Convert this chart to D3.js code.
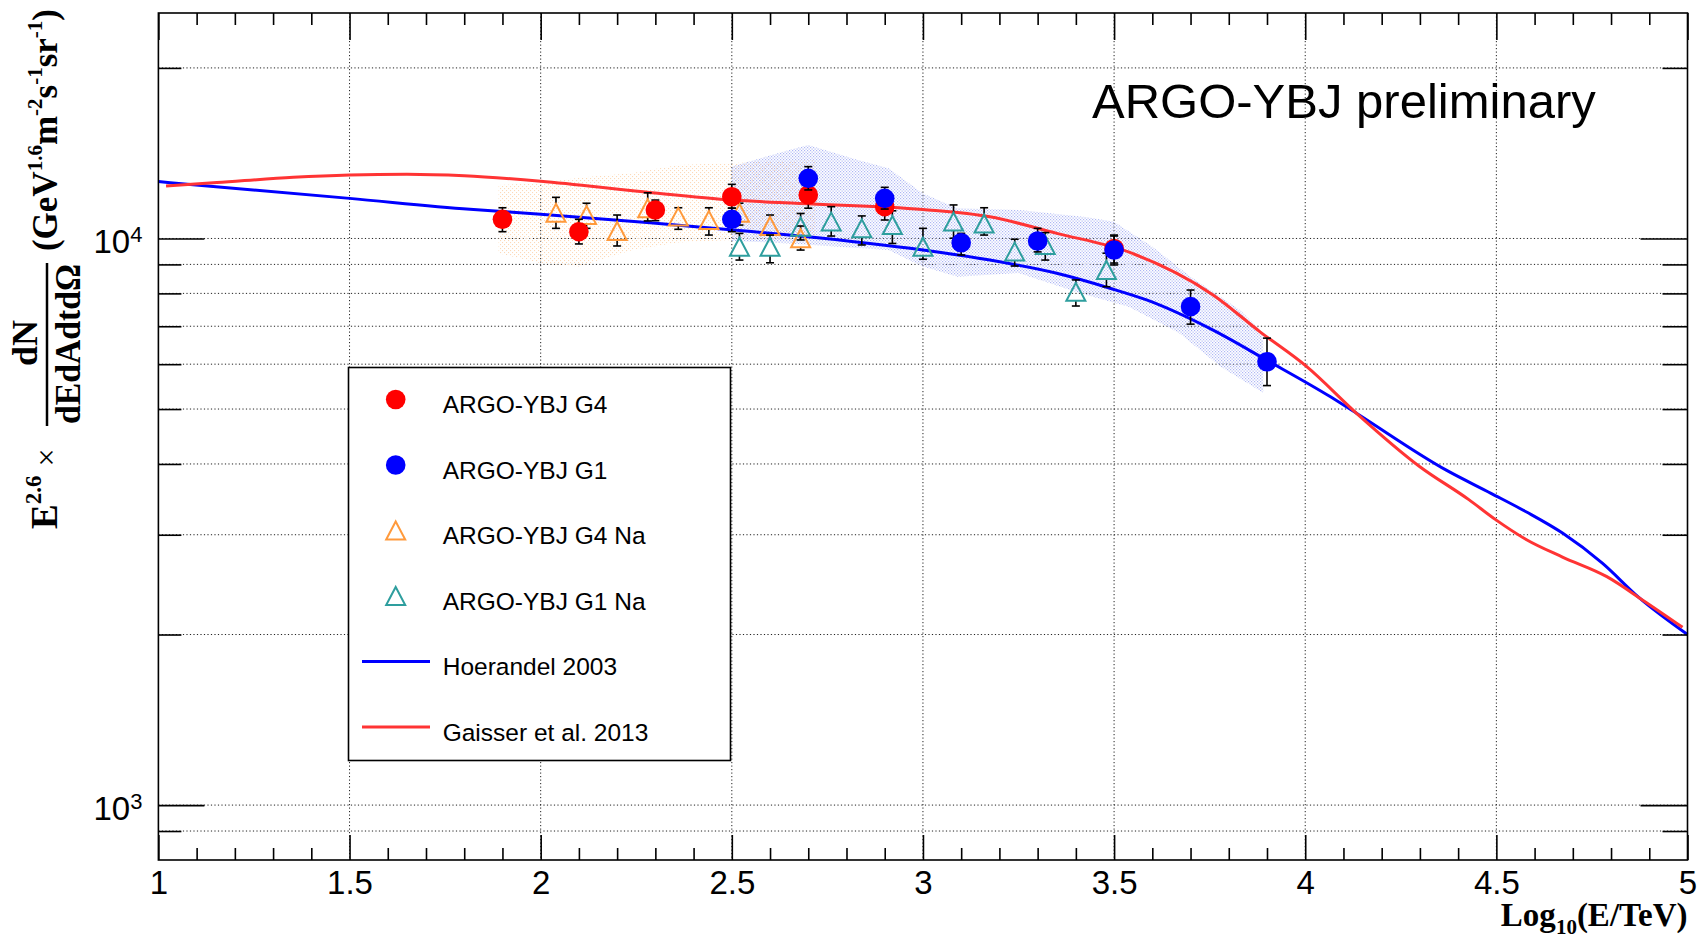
<!DOCTYPE html>
<html>
<head>
<meta charset="utf-8">
<title>ARGO-YBJ all-particle spectrum</title>
<script src="https://cdn.jsdelivr.net/npm/d3@7"></script>
<style>
  body { margin: 0; background: #fff; }
  svg { display: block; }
  .sans { font-family: "Liberation Sans", Arial, Helvetica, sans-serif; }
  .serif { font-family: "Liberation Serif", "Times New Roman", serif; font-weight: bold; }
</style>
</head>
<body>
<div id="chart"></div>
<script>
// ---- data ----
// ARGO-YBJ G4 (red dots)
var g4X  = [1.9, 2.1, 2.3, 2.5, 2.7, 2.9, 3.5];
var g4Y  = [10810, 10280, 11230, 11850, 11930, 11380, 9600];
var g4Lo = [10280, 9780, 10750, 11310, 11310, 10780, 9050];
var g4Hi = [11330, 10810, 11690, 12460, 12530, 11930, 10100];

// ARGO-YBJ G1 (blue dots)
var g1X  = [2.5, 2.7, 2.9, 3.1, 3.3, 3.5, 3.7, 3.9];
var g1Y  = [10810, 12770, 11770, 9830, 9900, 9540, 7580, 6060];
var g1Lo = [10280, 12180, 11270, 9350, 9470, 8980, 7060, 5500];
var g1Hi = [11310, 13390, 12310, 10210, 10420, 10140, 8110, 6670];

// ARGO-YBJ G4 Na (orange open triangles)
var g4naX  = [2.04, 2.12, 2.20, 2.28, 2.36, 2.44, 2.52, 2.60, 2.68];
var g4naY  = [11100, 11000, 10310, 11310, 10930, 10780, 11100, 10520, 10010];
var g4naLo = [10420, 10420, 9700, 10740, 10380, 10140, 10560, 10140, 9540];
var g4naHi = [11820, 11540, 11000, 12040, 11330, 11330, 11540, 11000, 10520];

// ARGO-YBJ G1 Na (teal open triangles)
var g1naX  = [2.52, 2.60, 2.68, 2.76, 2.84, 2.92, 3.00, 3.08, 3.16, 3.24, 3.32, 3.40, 3.48];
var g1naY  = [9670, 9670, 10490, 10710, 10420, 10560, 9670, 10710, 10630, 9480, 9740, 8050, 8800];
var g1naLo = [9160, 9060, 9940, 10100, 9740, 9800, 9190, 10010, 10140, 8940, 9160, 7600, 8220];
var g1naHi = [10210, 10140, 11070, 11380, 10960, 11190, 10420, 11460, 11330, 9970, 10240, 8450, 9420];

// systematic bands (dotted fill)
var bandG4X  = [1.89, 2.0, 2.1, 2.24, 2.36, 2.5, 2.72];
var bandG4Lo = [9420, 9040, 8920, 9540, 9840, 9940, 9940];
var bandG4Hi = [12430, 12530, 12800, 13050, 13480, 13590, 13760];

var bandG1UpX  = [2.5, 2.65, 2.70, 2.83, 2.91, 3.0, 3.09, 3.26, 3.43, 3.5, 3.6, 3.7, 3.83, 3.89];
var bandG1UpY  = [13400, 14330, 14620, 13760, 13300, 12010, 11310, 11220, 10900, 10700, 9670, 8560, 7470, 6800];
var bandG1LowX = [2.5, 2.65, 2.91, 3.0, 3.09, 3.25, 3.41, 3.54, 3.67, 3.78, 3.89];
var bandG1LowY = [9900, 9800, 9540, 8920, 8560, 8690, 8010, 7570, 6810, 5930, 5340];

// models
var hoerX = [1.0, 1.5, 1.815, 2.0, 2.286, 2.504, 2.678, 3.0, 3.175, 3.35, 3.489, 3.585, 3.759, 3.899,
             4.065, 4.135, 4.369, 4.486, 4.579, 4.673, 4.778, 4.871, 5.0];
var hoerY = [12600, 11770, 11260, 11040, 10660, 10350, 10100, 9540, 9160, 8680, 8170, 7790, 6890, 6100,
             5260, 4910, 3900, 3550, 3290, 3020, 2670, 2330, 2000];
var gaisX = [1.02, 1.153, 1.353, 1.5, 1.65, 1.8, 2.0, 2.268, 2.504, 2.678, 3.0, 3.175, 3.35, 3.541, 3.759,
             3.881, 4.004, 4.135, 4.299, 4.428, 4.498, 4.579, 4.673, 4.789, 4.883, 4.987];
var gaisY = [12380, 12550, 12820, 12940, 12980, 12900, 12620, 12090, 11690, 11530, 11250, 10920, 10210, 9450, 7950,
             6850, 5940, 4910, 3960, 3460, 3190, 2940, 2740, 2530, 2300, 2060];

var legendLabels = ["ARGO-YBJ G4", "ARGO-YBJ G1", "ARGO-YBJ G4 Na", "ARGO-YBJ G1 Na", "Hoerandel 2003", "Gaisser et al. 2013"];

// ---- drawing ----
var W = 1701, H = 941;
var RED = "#ff0000", BLUE = "#0000ff", ORANGE = "#ff9a3c", TEAL = "#2e9e9e";
var RED_LINE = "#ff3434";

var svg = d3.select("#chart").append("svg").attr("width", W).attr("height", H);
svg.append("rect").attr("width", W).attr("height", H).attr("fill", "#fff");

var x = d3.scaleLinear().domain([1, 5]).range([158.4, 1687.5]);
var y = d3.scaleLog().domain([800, 25000]).range([860, 13]);
var X0 = x.range()[0], X1 = x.range()[1], YB = y.range()[0], YT = y.range()[1];

var defs = svg.append("defs");
function dotPattern(id, color, size, dot) {
  var p = defs.append("pattern").attr("id", id)
    .attr("patternUnits", "userSpaceOnUse").attr("width", size).attr("height", size);
  p.append("rect").attr("x", 0).attr("y", 0).attr("width", dot).attr("height", dot).attr("fill", color);
  p.append("rect").attr("x", size / 2).attr("y", size / 2).attr("width", dot).attr("height", dot).attr("fill", color);
}
dotPattern("dotOrange", "#fcd9b8", 4, 1.1);
dotPattern("dotBlue", "#aeb6f4", 3, 1.2);

var yTicks = y.ticks().filter(function (v) { return v > 800 && v < 25000; });
var yMajor = yTicks.filter(function (v) { return Math.abs(Math.log10(v) - Math.round(Math.log10(v))) < 1e-9; });
var yMinor = yTicks.filter(function (v) { return yMajor.indexOf(v) < 0; });
var xMajor = x.ticks(8);
var xMinor = x.ticks(40).filter(function (v) { return Math.abs(v * 2 - Math.round(v * 2)) > 1e-6; });

// grid
var grid = svg.append("g").attr("stroke", "#222").attr("stroke-width", 1).attr("stroke-dasharray", "1.2,2.3");
grid.selectAll(".gx").data(xMajor.slice(1, -1)).enter().append("line")
  .attr("x1", function (d) { return x(d); }).attr("x2", function (d) { return x(d); })
  .attr("y1", YT).attr("y2", YB);
grid.selectAll(".gy").data(yTicks).enter().append("line")
  .attr("x1", X0).attr("x2", X1)
  .attr("y1", function (d) { return y(d); }).attr("y2", function (d) { return y(d); });

// bands
function bandPath(ux, uy, lx, ly) {
  var pts = ux.map(function (v, i) { return [x(v), y(uy[i])]; });
  for (var i = lx.length - 1; i >= 0; i--) pts.push([x(lx[i]), y(ly[i])]);
  return "M" + pts.map(function (p) { return p.join(","); }).join("L") + "Z";
}
svg.append("path").attr("d", bandPath(bandG4X, bandG4Hi, bandG4X, bandG4Lo)).attr("fill", "url(#dotOrange)");
svg.append("path").attr("d", bandPath(bandG1UpX, bandG1UpY, bandG1LowX, bandG1LowY)).attr("fill", "url(#dotBlue)");

// model curves
var line = d3.line().x(function (d) { return x(d[0]); }).y(function (d) { return y(d[1]); }).curve(d3.curveMonotoneX);
svg.append("path").datum(hoerX.map(function (v, i) { return [v, hoerY[i]]; }))
  .attr("d", line).attr("fill", "none").attr("stroke", BLUE).attr("stroke-width", 3);
svg.append("path").datum(gaisX.map(function (v, i) { return [v, gaisY[i]]; }))
  .attr("d", line).attr("fill", "none").attr("stroke", RED_LINE).attr("stroke-width", 3);

// data points
var R = 9.8, T = 9;
function errBars(g, xs, lo, hi, gapTop, gapBot, ys) {
  xs.forEach(function (v, i) {
    var cx = x(v), ct = y(hi[i]), cb = y(lo[i]), cy = y(ys[i]);
    if (ct < cy - gapTop) g.append("line").attr("x1", cx).attr("x2", cx).attr("y1", ct).attr("y2", cy - gapTop);
    if (cb > cy + gapBot) g.append("line").attr("x1", cx).attr("x2", cx).attr("y1", cy + gapBot).attr("y2", cb);
    g.append("line").attr("x1", cx - 4).attr("x2", cx + 4).attr("y1", ct).attr("y2", ct);
    g.append("line").attr("x1", cx - 4).attr("x2", cx + 4).attr("y1", cb).attr("y2", cb);
  });
}
function triPath(cx, cy) {
  return "M" + cx + "," + (cy - T) + "L" + (cx + 9.5) + "," + (cy + T) + "L" + (cx - 9.5) + "," + (cy + T) + "Z";
}
function circles(xs, ys, lo, hi, color) {
  var g = svg.append("g");
  var e = g.append("g").attr("stroke", "#000").attr("stroke-width", 1.6);
  errBars(e, xs, lo, hi, 0, 0, ys);
  g.selectAll("circle").data(xs).enter().append("circle")
    .attr("cx", function (d) { return x(d); })
    .attr("cy", function (d, i) { return y(ys[i]); })
    .attr("r", R).attr("fill", color);
}
function triangles(xs, ys, lo, hi, color) {
  var g = svg.append("g");
  var e = g.append("g").attr("stroke", "#000").attr("stroke-width", 1.6);
  errBars(e, xs, lo, hi, T, T, ys);
  g.selectAll("path").data(xs).enter().append("path")
    .attr("d", function (d, i) { return triPath(x(d), y(ys[i])); })
    .attr("fill", "none").attr("stroke", color).attr("stroke-width", 2);
}
triangles(g4naX, g4naY, g4naLo, g4naHi, ORANGE);
triangles(g1naX, g1naY, g1naLo, g1naHi, TEAL);
circles(g4X, g4Y, g4Lo, g4Hi, RED);
circles(g1X, g1Y, g1Lo, g1Hi, BLUE);

// axes (ticks pointing inwards)
function styleAxis(g) {
  g.select(".domain").remove();
  g.selectAll(".tick line").attr("stroke", "#000").attr("stroke-width", 1.6);
}
svg.append("g").attr("transform", "translate(0," + YB + ")")
  .call(d3.axisBottom(x).tickValues(xMajor).tickSize(-25).tickSizeOuter(0).tickPadding(11).tickFormat(d3.format("")))
  .call(styleAxis)
  .selectAll("text").attr("class", "sans").attr("font-size", 33).attr("fill", "#000");
svg.append("g").attr("transform", "translate(0," + YB + ")")
  .call(d3.axisBottom(x).tickValues(xMinor).tickSize(-12).tickSizeOuter(0).tickFormat(""))
  .call(styleAxis);
svg.append("g").attr("transform", "translate(0," + YT + ")")
  .call(d3.axisTop(x).tickValues(xMajor).tickSize(-27).tickSizeOuter(0).tickFormat(""))
  .call(styleAxis);
svg.append("g").attr("transform", "translate(0," + YT + ")")
  .call(d3.axisTop(x).tickValues(xMinor).tickSize(-12).tickSizeOuter(0).tickFormat(""))
  .call(styleAxis);
svg.append("g").attr("transform", "translate(" + X0 + ",0)")
  .call(d3.axisLeft(y).tickValues(yMajor).tickSize(-46).tickSizeOuter(0).tickFormat(""))
  .call(styleAxis);
svg.append("g").attr("transform", "translate(" + X0 + ",0)")
  .call(d3.axisLeft(y).tickValues(yMinor).tickSize(-23).tickSizeOuter(0).tickFormat(""))
  .call(styleAxis);
svg.append("g").attr("transform", "translate(" + X1 + ",0)")
  .call(d3.axisRight(y).tickValues(yMajor).tickSize(-47).tickSizeOuter(0).tickFormat(""))
  .call(styleAxis);
svg.append("g").attr("transform", "translate(" + X1 + ",0)")
  .call(d3.axisRight(y).tickValues(yMinor).tickSize(-25).tickSizeOuter(0).tickFormat(""))
  .call(styleAxis);

svg.append("rect").attr("x", X0).attr("y", YT).attr("width", X1 - X0).attr("height", YB - YT)
  .attr("fill", "none").attr("stroke", "#000").attr("stroke-width", 1.6);

// 10^n labels
yMajor.forEach(function (v) {
  var t = svg.append("text").attr("class", "sans").attr("x", X0 - 16).attr("y", y(v) + 15)
    .attr("text-anchor", "end").attr("font-size", 33).attr("fill", "#000");
  t.append("tspan").text("10");
  t.append("tspan").attr("font-size", 22).attr("dy", -11).text(Math.round(Math.log10(v)));
});

// axis titles
var xt = svg.append("text").attr("class", "serif").attr("x", X1).attr("y", 926)
  .attr("text-anchor", "end").attr("font-size", 33).attr("fill", "#000");
xt.append("tspan").text("Log");
xt.append("tspan").attr("font-size", 21).attr("dy", 8).text("10");
xt.append("tspan").attr("dy", -8).text("(E/TeV)");

var yt = svg.append("g").attr("class", "serif").attr("transform", "rotate(-90)").attr("fill", "#000");
var ya = yt.append("text").attr("x", -529).attr("y", 57).attr("font-size", 37);
ya.append("tspan").text("E");
ya.append("tspan").attr("font-size", 23).attr("dy", -16).text("2.6");
ya.append("tspan").attr("dy", 16).attr("dx", 9).attr("font-weight", "normal").attr("font-size", 32).text("\u00d7");
yt.append("text").attr("x", -343).attr("y", 37).attr("font-size", 36).attr("text-anchor", "middle").text("dN");
yt.append("line").attr("x1", -426).attr("x2", -263).attr("y1", 47).attr("y2", 47)
  .attr("stroke", "#000").attr("stroke-width", 2.5);
yt.append("text").attr("x", -344).attr("y", 80).attr("font-size", 36).attr("text-anchor", "middle")
  .attr("textLength", 160).attr("lengthAdjust", "spacingAndGlyphs")
  .text("dEdAdtd\u03a9");
var yc = yt.append("text").attr("x", -9).attr("y", 57).attr("font-size", 35).attr("text-anchor", "end");
[["(GeV", 0], ["1.6", 1], ["m", 0], ["-2", 1], ["s", 0], ["-1", 1], ["sr", 0], ["-1", 1], [")", 0]].forEach(function (p, i, arr) {
  var prevSup = i > 0 && arr[i - 1][1];
  var dy = p[1] ? (prevSup ? 0 : -15) : (prevSup ? 15 : 0);
  yc.append("tspan").attr("dy", dy).attr("font-size", p[1] ? 21 : 35).text(p[0]);
});

// preliminary label
svg.append("text").attr("class", "sans").attr("x", 1092).attr("y", 118)
  .attr("font-size", 49).attr("fill", "#000").text("ARGO-YBJ preliminary");

// legend
var lg = svg.append("g");
lg.append("rect").attr("x", 348.5).attr("y", 367.5).attr("width", 382).attr("height", 393)
  .attr("fill", "#fff").attr("stroke", "#000").attr("stroke-width", 1.6);
var rowY = d3.scaleLinear().domain([0, 5]).range([399.5, 727]);
legendLabels.forEach(function (lab, i) {
  var cy = rowY(i), mx = 395.7;
  if (i === 0 || i === 1) {
    lg.append("circle").attr("cx", mx).attr("cy", cy).attr("r", R).attr("fill", i === 0 ? RED : BLUE);
  } else if (i === 2 || i === 3) {
    lg.append("path").attr("d", triPath(mx, cy)).attr("fill", "none")
      .attr("stroke", i === 2 ? ORANGE : TEAL).attr("stroke-width", 2);
  } else {
    lg.append("line").attr("x1", 362).attr("x2", 430).attr("y1", cy).attr("y2", cy)
      .attr("stroke", i === 4 ? BLUE : RED_LINE).attr("stroke-width", 3);
  }
  lg.append("text").attr("class", "sans").attr("x", 442.7).attr("y", cy + 13.5)
    .attr("font-size", 24.5).attr("fill", "#000").text(lab);
});
</script>
</body>
</html>
